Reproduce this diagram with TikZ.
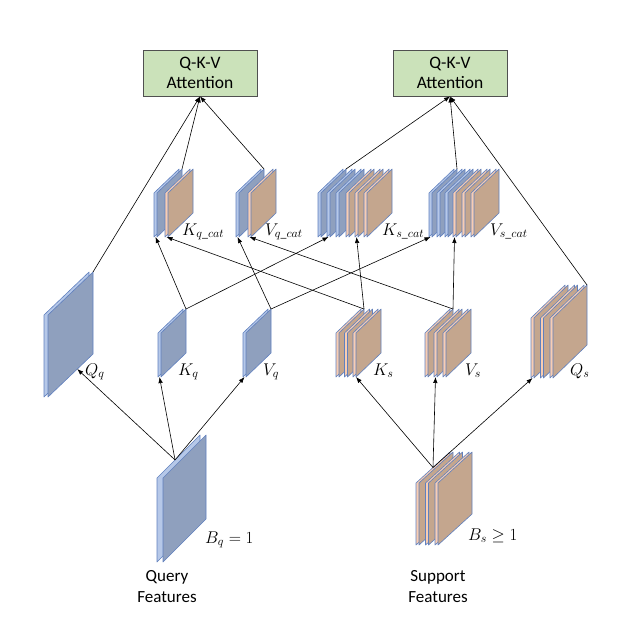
\RequirePackage{fix-cm}
\documentclass[tikz,border=0pt]{standalone}
\usepackage{amsmath, amssymb}
\usepackage{fontspec}
\setmainfont{Carlito}
\usepackage{tikz}
\usetikzlibrary{arrows.meta, positioning, calc}

\definecolor{blueface}{RGB}{143,160,190}
\definecolor{blueedge}{RGB}{182,200,232}
\definecolor{tanface}{RGB}{196,166,142}
\definecolor{tanedge}{RGB}{248,205,178}
\definecolor{slabline}{RGB}{96,128,190}
\definecolor{attfill}{RGB}{203,226,186}
\definecolor{attline}{RGB}{80,80,80}

\begin{document}
\begin{tikzpicture}[x=1pt, y=-1pt,
                pics/slab/.style n args={5}{code={
                    \draw[fill=#5edge, draw=slabline, line width=0.6pt, line join=round]
                        (0,0) -- (0,{-#2}) -- (#1,{-#2-#3}) -- (#1,{-#3}) -- cycle;
                    \draw[fill=#5face, draw=slabline, line width=0.6pt, line join=round]
                        (#4,0) -- (#4,{-#2}) -- ({#4+#1},{-#2-#3}) -- ({#4+#1},{-#3}) -- cycle;
                    \coordinate (-b) at ({#4/2},0);
                    \coordinate (-bl) at (#4,0);
                    \coordinate (-br) at ({#4+#1},{-#3});
                    \coordinate (-tr) at ({#4+#1},{-#2-#3});
                    \coordinate (-tl) at (0,{-#2});
                    \coordinate (-tb) at (#1,{-#2-#3});
                }},
                attn/.style={rectangle, draw=attline, fill=attfill, line width=0.8pt,
                    minimum width=114pt, minimum height=46pt, inner sep=0pt, align=center,
                    font=\fontsize{17.5}{20}\selectfont},
                lbl/.style={anchor=base west, inner sep=0pt, font=\fontsize{17}{20}\selectfont},
                feat/.style={align=center, inner sep=0pt, font=\fontsize{17}{21}\selectfont},
                conn/.style={-{Latex[length=6pt, width=4.5pt]}, line width=0.6pt}]
                \useasboundingbox (0,0) rectangle (629,619);

                \node[attn] (att1) at (200,73) {Q-K-V\\Attention};
                \node[attn] (att2) at (450,73) {Q-K-V\\Attention};

                \pic (Kqc1) at (154,237) {slab={25}{44}{24}{3}{blue}};
                \pic (Kqc2) at (165,237) {slab={25}{44}{24}{3}{tan}};
                \pic (Vqc1) at (236,237) {slab={25}{44}{24}{3}{blue}};
                \pic (Vqc2) at (248,237) {slab={25}{44}{24}{3}{tan}};
                \pic (Ksc1) at (318,237) {slab={25}{44}{24}{3}{blue}};
                \pic (Ksc2) at (327,237) {slab={25}{44}{24}{3}{blue}};
                \pic (Ksc3) at (336,237) {slab={25}{44}{24}{3}{blue}};
                \pic (Ksc4) at (346,237) {slab={25}{44}{24}{3}{tan}};
                \pic (Ksc5) at (355,237) {slab={25}{44}{24}{3}{tan}};
                \pic (Ksc6) at (364,237) {slab={25}{44}{24}{3}{tan}};
                \pic (Vsc1) at (429,237) {slab={25}{44}{24}{3}{blue}};
                \pic (Vsc2) at (437,237) {slab={25}{44}{24}{3}{blue}};
                \pic (Vsc3) at (445,237) {slab={25}{44}{24}{3}{blue}};
                \pic (Vsc4) at (453,237) {slab={25}{44}{24}{3}{tan}};
                \pic (Vsc5) at (462,237) {slab={25}{44}{24}{3}{tan}};
                \pic (Vsc6) at (471,237) {slab={25}{44}{24}{3}{tan}};

                \pic (Qq) at (44,397) {slab={45}{82}{43}{4}{blue}};
                \pic (Kq) at (158,377) {slab={25}{44}{24}{3}{blue}};
                \pic (Vq) at (243,377) {slab={25}{44}{24}{3}{blue}};
                \pic (Ks1) at (336,377) {slab={25}{44}{24}{3}{tan}};
                \pic (Ks2) at (344.5,377) {slab={25}{44}{24}{3}{tan}};
                \pic (Ks3) at (353,377) {slab={25}{44}{24}{3}{tan}};
                \pic (Vs1) at (425,377) {slab={25}{44}{24}{3}{tan}};
                \pic (Vs2) at (434,377) {slab={25}{44}{24}{3}{tan}};
                \pic (Vs3) at (443,377) {slab={25}{44}{24}{3}{tan}};
                \pic (Qs1) at (531,378) {slab={34}{60}{33}{3}{tan}};
                \pic (Qs2) at (540.5,378) {slab={34}{60}{33}{3}{tan}};
                \pic (Qs3) at (550,378) {slab={34}{60}{33}{3}{tan}};

                \pic (Bq) at (157,562) {slab={43}{84}{43}{6}{blue}};
                \pic (Bs1) at (416,545) {slab={34}{62}{31}{3}{tan}};
                \pic (Bs2) at (425.5,545) {slab={34}{62}{31}{3}{tan}};
                \pic (Bs3) at (435,545) {slab={34}{62}{31}{3}{tan}};

                \coordinate (qsrc) at ($(Bq-tl)!0.42!(Bq-tb)$);
                \coordinate (ssrc) at ($(Bs1-tl)!0.5!(Bs1-tb)$);
                \coordinate (Qq-in) at ($(Qq-bl)!0.65!(Qq-br)$);

                \draw[conn] (qsrc) -- (Qq-in);
                \draw[conn] (qsrc) -- (Kq-b);
                \draw[conn] (qsrc) -- (Vq-b);
                \draw[conn] (ssrc) -- (Ks3-bl);
                \draw[conn] (ssrc) -- (Vs2-b);
                \draw[conn] (ssrc) -- (Qs1-b);

                \draw[conn] (Kq-tr) -- (Kqc1-b);
                \draw[conn] (Kq-tr) -- (Ksc2-b);
                \draw[conn] (Vq-tr) -- (Vqc1-b);
                \draw[conn] (Vq-tr) -- (Vsc1-b);
                \draw[conn] (Ks1-tr) -- (Kqc2-b);
                \draw[conn] (Ks1-tr) -- (Ksc5-b);
                \draw[conn] (Vs1-tr) -- (Vqc2-b);
                \draw[conn] (Vs1-tr) -- (Vsc4-b);

                \draw[conn] (Qq-tr) -- (att1.south);
                \draw[conn] (Kqc1-tr) -- (att1.south);
                \draw[conn] (Vqc1-tr) -- (att1.south);
                \draw[conn] (Ksc1-tr) -- (att2.south);
                \draw[conn] (Vsc1-tr) -- (att2.south);
                \draw[conn] (Qs3-tr) -- (att2.south);

                \node[lbl] (lKqc) at (182,235) {$K_{q\_cat}$};
                \node[lbl] (lVqc) at (265,235) {$V_{q\_cat}$};
                \node[lbl] (lKsc) at (382,235) {$K_{s\_cat}$};
                \node[lbl] (lVsc) at (490,235) {$V_{s\_cat}$};
                \node[lbl] (lQq) at (85,375) {$Q_q$};
                \node[lbl] (lKq) at (178,375) {$K_q$};
                \node[lbl] (lVq) at (263,375) {$V_q$};
                \node[lbl] (lKs) at (373,375) {$K_s$};
                \node[lbl] (lVs) at (465,375) {$V_s$};
                \node[lbl] (lQs) at (570,375) {$Q_s$};
                \node[lbl] (lBq) at (205,543) {$B_q = 1$};
                \node[lbl] (lBs) at (468,540) {$B_s \geq 1$};

                \node[feat] (qfeat) at (167,587) {Query\\Features};
                \node[feat] (sfeat) at (438,587) {Support\\Features};
            \end{tikzpicture}
\end{document}
